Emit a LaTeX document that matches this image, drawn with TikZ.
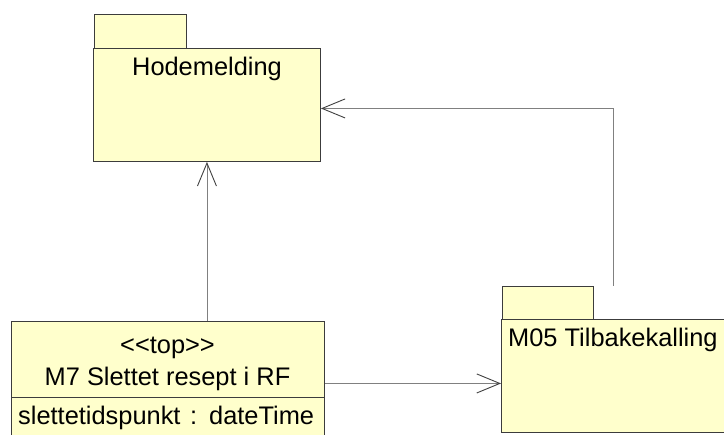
\documentclass[tikz,border=0pt]{standalone}
\usepackage{fontspec}
\setmainfont{Liberation Sans}
\usetikzlibrary{arrows.meta,calc}
\definecolor{umlfill}{RGB}{255,255,204}
\definecolor{umlborder}{RGB}{60,60,60}
\definecolor{connline}{RGB}{128,128,128}
\definecolor{conntip}{RGB}{64,64,64}
\tikzset{
  box/.style={draw=umlborder, fill=umlfill, line width=0.9pt, inner sep=0pt, anchor=north west},
  txt/.style={font=\fontsize{25.4pt}{30pt}\selectfont, inner sep=0pt, anchor=base},
  conn/.style={draw=connline, line width=0.9pt,
    -{Straight Barb[length=23pt,width=19pt,line width=0.9pt,color=conntip]}},
}
\begin{document}
\begin{tikzpicture}[x=1pt,y=-1pt]
\useasboundingbox (0,0) rectangle (724,435);
\clip (0,0) rectangle (724,435);
\fill[white] (0,0) rectangle (724,435);
% Hodemelding package
\node[box, minimum width=92pt, minimum height=34pt] (hodetab) at (94,14) {};
\node[box, minimum width=227pt, minimum height=113pt] (hode) at (93,48) {};
\node[txt] (hodetxt) at (207,76) {Hodemelding};
% M7 class
\node[box, minimum width=313pt, minimum height=130pt] (m7) at (11,321) {};
\draw[umlborder, line width=0.9pt] (11,397) -- (324,397);
\node[txt] (m7st) at (167.5,354) {<\kern0pt<top>\kern0pt>};
\node[txt] (m7name) at (167.5,386) {M7 Slettet resept i RF};
\node[txt, anchor=base west] (m7attr) at (18,425) {slettetidspunkt\hspace{0.1em} : \hspace{0.1em}dateTime};
% M05 package
\node[box, minimum width=91pt, minimum height=33pt] (m05tab) at (502,286) {};
\node[box, minimum width=260pt, minimum height=113pt] (m05) at (501,319) {};
\node[txt, anchor=base west] (m05txt) at (508,347) {M05 Tilbakekalling};
% connectors
\draw[conn] (hode.south |- m7.north) -- (hode.south);
\coordinate (m05top) at (613,286);
\draw[conn] (m05top) |- ([yshift=-3.5pt]hode.east);
\draw[conn] ([yshift=-7.5pt]m05.west -| m7.east) -- ([yshift=-7.5pt]m05.west);
\end{tikzpicture}
\end{document}
